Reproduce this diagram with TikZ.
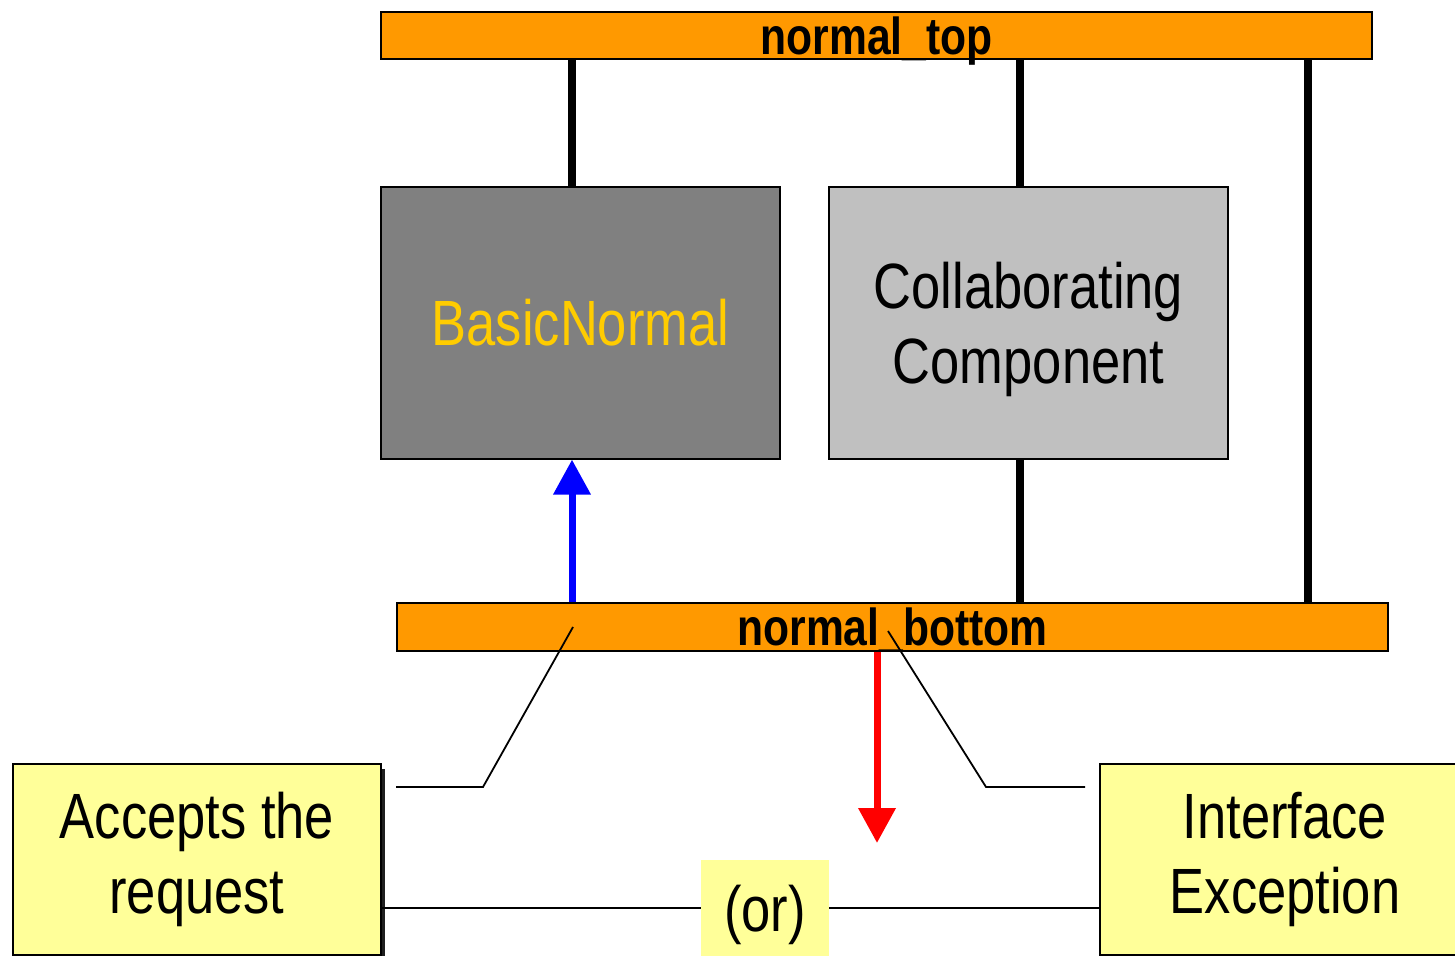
\documentclass[tikz,border=0pt]{standalone}
\usepackage{fontspec}
\setmainfont[FakeStretch=0.82]{Liberation Sans}
\usetikzlibrary{arrows.meta,shadows}
\definecolor{barorange}{HTML}{FF9900}
\definecolor{basicgray}{HTML}{808080}
\definecolor{basicgold}{HTML}{FFCC00}
\definecolor{collabgray}{HTML}{C0C0C0}
\definecolor{noteyellow}{HTML}{FFFF99}
\begin{document}
\begin{tikzpicture}[x=0.5pt,y=-0.5pt]
  \def\big{\fontsize{32}{37.5}\selectfont}
  \tikzset{bar/.style={draw,fill=barorange,line width=0.6pt,minimum width=495.5pt,minimum height=23.5pt,inner sep=0pt,text depth=0pt,font=\fontsize{26}{30}\selectfont\bfseries},
    blk/.style={draw,line width=0.6pt,minimum width=199.5pt,minimum height=136pt,inner sep=0pt,align=center,font=\big},
    note/.style={draw,fill=noteyellow,line width=0.6pt,minimum height=95.5pt,inner sep=0pt,align=center,font=\big,
      drop shadow={shadow xshift=2pt,shadow yshift=-2.5pt,fill=black!88,opacity=1}},
    wire/.style={line width=4pt},
    lead/.style={line width=0.9pt}}
  \useasboundingbox (0,0) rectangle (1455,956);
  \node[bar] (top) at (876.5,35.5) {normal\_top};
  \node[bar,minimum height=24pt] (bot) at (892.5,627) {normal\_bottom};
  \node[blk,fill=basicgray,text=basicgold] (bn) at (580.5,323) {BasicNormal};
  \node[blk,fill=collabgray,text depth=0pt] (cc) at (1028.5,323) {Collaborating\\Component};
  \node[note,minimum width=184pt] (acc) at (197,859.5) {Accepts the\\request};
  \node[note,minimum width=185pt] (ie) at (1285,859.5) {Interface\\Exception};
  \node[fill=noteyellow,minimum width=64pt,minimum height=48pt,inner sep=0pt,text depth=0pt,font=\big] (orn) at (765,908) {(or)};
  % x positions of the vertical links
  \coordinate (lx) at (572,0);
  \coordinate (rx) at (1020,0);
  \coordinate (side) at (1308,0);
  \coordinate (drop) at (877,843);
  \foreach \x/\a/\b in {lx/top.south/bn.north, rx/top.south/cc.north, rx/cc.south/bot.north, side/top.south/bot.north}
    \draw[wire](\x |- \a)--(\x |- \b);
  \draw[wire,line width=3.5pt,blue,-{Triangle[width=18pt,length=17.5pt]}](lx |- bot.north)--(lx |- bn.south);
  \draw[wire,line width=3.5pt,red,-{Triangle[width=18pt,length=17.5pt]}](drop |- bot.south)--(drop);
  % callout leads
  \coordinate (p1) at (573,627);
  \coordinate (k1) at (483,787);
  \coordinate (e1) at (396,787);
  \coordinate (p2) at (888,631);
  \coordinate (k2) at (986,787);
  \coordinate (e2) at (1085,787);
  \draw[lead](p1)--(k1)--(e1);
  \draw[lead](p2)--(k2)--(e2);
  \draw[lead](acc.east |- orn)--(orn.west);
  \draw[lead](orn.east)--(ie.west |- orn);
\end{tikzpicture}
\end{document}
